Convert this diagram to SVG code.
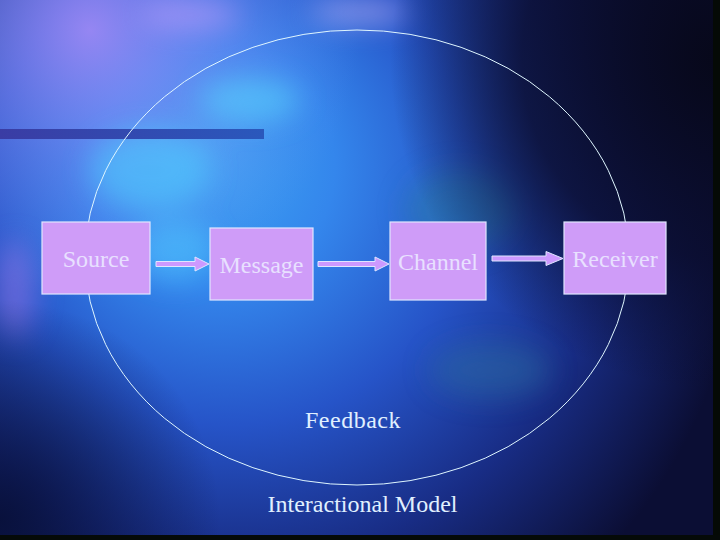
<svg xmlns="http://www.w3.org/2000/svg" width="720" height="540" viewBox="0 0 720 540">
  <defs>
    <radialGradient id="bgMain" gradientUnits="userSpaceOnUse" cx="260" cy="220" r="480" fx="200" fy="150">
      <stop offset="0" stop-color="#3ea8f4"/>
      <stop offset="0.25" stop-color="#3486ec"/>
      <stop offset="0.5" stop-color="#2654c8"/>
      <stop offset="0.75" stop-color="#182c84"/>
      <stop offset="1" stop-color="#0b0e34"/>
    </radialGradient>
    <radialGradient id="glowTL" gradientUnits="userSpaceOnUse" cx="90" cy="30" r="270">
      <stop offset="0" stop-color="#a88cf8" stop-opacity="0.85"/>
      <stop offset="0.5" stop-color="#7e88f2" stop-opacity="0.45"/>
      <stop offset="1" stop-color="#6a8af0" stop-opacity="0"/>
    </radialGradient>
    <radialGradient id="darkR" gradientUnits="userSpaceOnUse" cx="720" cy="60" r="330">
      <stop offset="0" stop-color="#07081a" stop-opacity="1"/>
      <stop offset="0.6" stop-color="#0a0c2c" stop-opacity="0.8"/>
      <stop offset="1" stop-color="#0a0c2c" stop-opacity="0"/>
    </radialGradient>
    <radialGradient id="darkBL" gradientUnits="userSpaceOnUse" cx="0" cy="520" r="220">
      <stop offset="0" stop-color="#08103a" stop-opacity="0.95"/>
      <stop offset="1" stop-color="#08103a" stop-opacity="0"/>
    </radialGradient>
    <linearGradient id="bar" x1="0" y1="0" x2="1" y2="0">
      <stop offset="0" stop-color="#3a3ca4"/>
      <stop offset="1" stop-color="#2a58bc"/>
    </linearGradient>
    <filter id="blur" x="-50%" y="-50%" width="200%" height="200%">
      <feGaussianBlur stdDeviation="14"/>
    </filter>
    <style>
      .box { fill: #cf9cf8; stroke: #dfe6ff; stroke-width: 1.2; }
      .arrow { fill: #cc99ff; stroke: #dfe6ff; stroke-width: 1; }
      .lbl { font-family: "Liberation Serif", "Times New Roman", serif; font-size: 24px; fill: #e8e0ff; }
      .cap { font-family: "Liberation Serif", "Times New Roman", serif; font-size: 24px; fill: #e0f0ff; }
    </style>
  </defs>

  <!-- background -->
  <rect x="0" y="0" width="720" height="540" fill="#0c1040"/>
  <rect x="0" y="0" width="720" height="540" fill="url(#bgMain)"/>
  <rect x="0" y="0" width="720" height="540" fill="url(#glowTL)"/>
  <g filter="url(#blur)" opacity="0.55">
    <ellipse cx="190" cy="15" rx="50" ry="14" fill="#c8a0ff"/>
    <ellipse cx="360" cy="12" rx="50" ry="12" fill="#d8c0ff"/>
    <ellipse cx="15" cy="290" rx="20" ry="50" fill="#9878e8"/>
    <ellipse cx="150" cy="170" rx="60" ry="40" fill="#50d0ff"/>
    <ellipse cx="250" cy="100" rx="50" ry="22" fill="#58d8ff"/>
    <ellipse cx="175" cy="250" rx="40" ry="30" fill="#50c8ff"/>
    <ellipse cx="460" cy="210" rx="55" ry="40" fill="#2a7ea8"/>
    <ellipse cx="490" cy="370" rx="60" ry="28" fill="#2a68a0"/>
  </g>
  <rect x="0" y="0" width="720" height="540" fill="url(#darkR)"/>
  <rect x="0" y="0" width="720" height="540" fill="url(#darkBL)"/>
  <rect x="713" y="0" width="7" height="540" fill="#050a06"/>
  <rect x="0" y="535" width="720" height="5" fill="#050a08"/>

  <!-- title bar -->
  <rect x="0" y="129" width="264" height="10" fill="url(#bar)"/>

  <!-- feedback ellipse -->
  <ellipse cx="357" cy="257.5" rx="272" ry="227.5" fill="none" stroke="#dff6ff" stroke-width="1"/>

  <!-- connectors -->
  <g id="connectors">
    <polygon class="arrow" points="156,261.5 195,261.5 195,257 209,264 195,271 195,266.5 156,266.5"/>
    <polygon class="arrow" points="318,261.5 375,261.5 375,257 389,264 375,271 375,266.5 318,266.5"/>
    <polygon class="arrow" points="492,256 546,256 546,251.5 563,258.5 546,265.5 546,261 492,261"/>
  </g>

  <!-- nodes -->
  <g id="source">
    <rect class="box" x="42" y="222" width="108" height="72"/>
    <text class="lbl" x="96" y="267" text-anchor="middle">Source</text>
  </g>
  <g id="message">
    <rect class="box" x="210" y="228" width="103" height="72"/>
    <text class="lbl" x="261.5" y="273" text-anchor="middle">Message</text>
  </g>
  <g id="channel">
    <rect class="box" x="390" y="222" width="96" height="78"/>
    <text class="lbl" x="438" y="270" text-anchor="middle">Channel</text>
  </g>
  <g id="receiver">
    <rect class="box" x="564" y="222" width="102" height="72"/>
    <text class="lbl" x="615" y="267" text-anchor="middle">Receiver</text>
  </g>

  <g id="feedback">
    <text class="cap" x="353" y="428" text-anchor="middle" letter-spacing="0.5">Feedback</text>
  </g>
  <g id="title">
    <text class="cap" x="362.5" y="512" text-anchor="middle">Interactional Model</text>
  </g>
</svg>
